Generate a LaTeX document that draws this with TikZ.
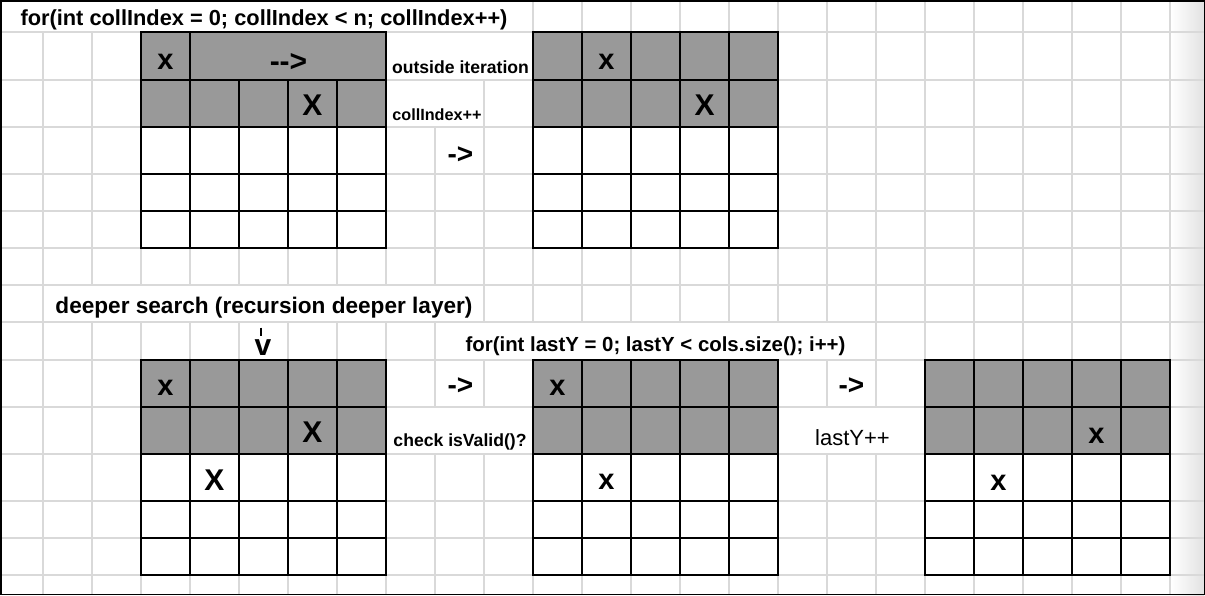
\documentclass[tikz,border=0pt]{standalone}
\usepackage{fontspec}
\setmainfont{Liberation Sans}
\definecolor{gridgray}{HTML}{D9D9D9}
\definecolor{cellgray}{HTML}{999999}
\definecolor{shadegray}{HTML}{E2E2E2}
\newcommand{\fsz}[1]{\fontsize{#1}{#1}\selectfont}
% table: x0, six row-line y values
\newcommand{\cellgrid}[7]{%
  \fill[cellgray] (#1,#2) rectangle (#1+245,#4);
  \fill[white] (#1,#4) rectangle (#1+245,#7);
  \foreach \yy in {#2,#3,#4,#5,#6,#7} \draw[tabline] (#1-1,\yy) -- (#1+246,\yy);
  \foreach \xx in {0,49,...,245} \draw[tabline] (#1+\xx,#2) -- (#1+\xx,#7);
}
\begin{document}
\begin{tikzpicture}[x=1pt,y=-1pt,
  gridline/.style={draw=gridgray, line width=1.6pt},
  tabline/.style={draw=black, line width=2pt},
  txt/.style={inner sep=0pt, anchor=base, text=black},
  head/.style={txt, font=\bfseries\fsz{21.8}},
  small/.style={txt, font=\bfseries\fsz{17.6}},
  bigx/.style={txt, font=\bfseries\fsz{29}},
  bigX/.style={txt, font=\bfseries\fsz{30}},
  arr/.style={txt, font=\bfseries\fsz{28}}]
\useasboundingbox (0,0) rectangle (1205,595);
\fill[white] (0,0) rectangle (1205,595);
% right-edge shade
\shade[left color=white, right color=shadegray] (1171,0) rectangle (1204,595);
% sheet grid: verticals
\foreach \gx in {43,92,...,1170} \draw[gridline] (\gx,0) -- (\gx,595);
% hide verticals where cell text overflows
\fill[white] (2,1) rectangle (531.5,31);
\fill[white] (387,33) rectangle (531.5,79);
\fill[white] (387,81) rectangle (482.5,126);
\fill[white] (44.5,286) rectangle (482.5,321);
\fill[white] (436.5,323) rectangle (874.5,359);
\fill[white] (387,408) rectangle (531.5,453);
\fill[white] (779,408) rectangle (923.5,453);
% sheet grid: horizontals
\foreach \gy in {32,80,127,174,211,248,285,322,360,407,454,501,538,575}
  \draw[gridline] (0,\gy) -- (1205,\gy);
% tables
\cellgrid{141}{32}{80}{127}{174}{211}{248}
\fill[cellgray] (191,33) rectangle (385,79);
\cellgrid{533}{32}{80}{127}{174}{211}{248}
\cellgrid{141}{360}{407}{454}{501}{538}{575}
\cellgrid{533}{360}{407}{454}{501}{538}{575}
\cellgrid{925}{360}{407}{454}{501}{538}{575}
% texts, upper part
\node[head] (title) at (264,25) {for(int collIndex = 0; collIndex < n; collIndex++)};
\node[bigx] (a1x) at (165.5,69) {x};
\node[bigX] (a1arrow) at (288.5,71.5) {-{}->};
\node[bigX] (a1X) at (312.5,115.3) {X};
\node[small] (outside) at (460.5,73) {outside iteration};
\node[txt, font=\bfseries\fsz{16.2}] (colinc) at (437,120.7) {collIndex++};
\node[arr] (arrowA) at (460.5,163) {->};
\node[bigx] (b1x) at (606.5,69) {x};
\node[bigX] (b1X) at (704.5,115.3) {X};
% texts, lower part
\node[txt, font=\bfseries\fsz{22.6}] (deeper) at (264,313) {deeper search (recursion deeper layer)};
\draw[line width=2.6pt] (261,327.5) -- (261,335.5);
\node[txt, font=\bfseries\fsz{30}] (vmark) at (263,355) {v};
\node[txt, font=\bfseries\fsz{20.4}] (forlast) at (655.5,351) {for(int lastY = 0; lastY < cols.size(); i++)};
\node[arr] (arrowB) at (460.5,394.7) {->};
\node[arr] (arrowC) at (851.5,394.7) {->};
\node[small] (check) at (460,446.7) {check isValid()?};
\node[txt, font=\fsz{22}] (lastinc) at (852.5,445) {lastY++};
\node[bigx] (c1x) at (165.5,395.7) {x};
\node[bigX] (c1X) at (312.5,442.3) {X};
\node[bigX] (c1Xb) at (214.5,490) {X};
\node[bigx] (d1x) at (557.5,395.7) {x};
\node[bigx] (d1xb) at (606.5,489.5) {x};
\node[bigx] (e1x) at (1096.5,443) {x};
\node[bigx] (e1xb) at (998.5,490) {x};
% outer border
\draw[black, line width=1.5pt] (0.75,0.75) rectangle (1204.25,594.25);
\end{tikzpicture}
\end{document}
